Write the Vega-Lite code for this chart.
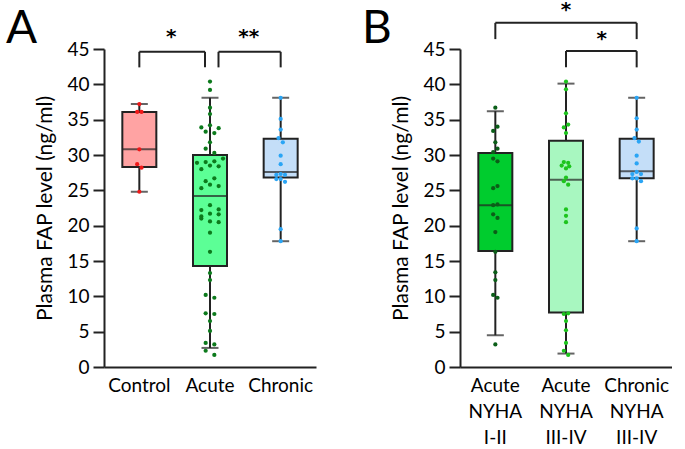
{
  "$schema": "https://vega.github.io/schema/vega-lite/v6.json",
  "padding": {"left": 5, "top": 0, "right": 0, "bottom": 0},
  "resolve": {"scale": {"fill": "independent", "color": "independent"}},
  "config": {
    "view": {"stroke": null},
    "font": "Lato",
    "axis": {
      "grid": false,
      "domainColor": "#222",
      "domainWidth": 2,
      "tickColor": "#222",
      "tickWidth": 2,
      "labelColor": "#000",
      "labelFontSize": 19,
      "titleColor": "#000",
      "titleFontSize": 21,
      "titleFontWeight": "normal"
    },
    "axisX": {"ticks": false, "labelPadding": 9, "labelAngle": 0, "title": null, "labelLineHeight": 26},
    "axisY": {"tickSize": 11, "labelPadding": 4, "titlePadding": 11},
    "title": {"fontSize": 46, "fontWeight": "normal", "color": "#000", "anchor": "start", "frame": "bounds", "offset": 0}
  },
  "datasets": {
    "boxA": [
      {"group": "Control", "lo": 24.8, "q1": 28.3, "med": 30.8, "q3": 36.1, "hi": 37.2},
      {"group": "Acute", "lo": 2.7, "q1": 14.3, "med": 24.2, "q3": 30.0, "hi": 38.1},
      {"group": "Chronic", "lo": 17.8, "q1": 26.8, "med": 27.6, "q3": 32.3, "hi": 38.1}
    ],
    "ptsA": [
      {"group": "Control", "value": 37.2, "j": 0}, {"group": "Control", "value": 36.1, "j": -1}, {"group": "Control", "value": 36.1, "j": 1},
      {"group": "Control", "value": 30.8, "j": 0}, {"group": "Control", "value": 28.7, "j": -1}, {"group": "Control", "value": 28.2, "j": 1},
      {"group": "Control", "value": 24.8, "j": 0},
      {"group": "Acute", "value": 40.4, "j": 0}, {"group": "Acute", "value": 39.2, "j": 0}, {"group": "Acute", "value": 36.7, "j": 0},
      {"group": "Acute", "value": 35.8, "j": 0}, {"group": "Acute", "value": 34.2, "j": 0}, {"group": "Acute", "value": 33.9, "j": -4},
      {"group": "Acute", "value": 33.8, "j": 4}, {"group": "Acute", "value": 33.3, "j": -2}, {"group": "Acute", "value": 33.1, "j": 2},
      {"group": "Acute", "value": 31.8, "j": 0}, {"group": "Acute", "value": 30.9, "j": -2}, {"group": "Acute", "value": 30.3, "j": 2},
      {"group": "Acute", "value": 28.9, "j": -6}, {"group": "Acute", "value": 29.0, "j": -2}, {"group": "Acute", "value": 29.1, "j": 2},
      {"group": "Acute", "value": 29.5, "j": 6}, {"group": "Acute", "value": 28.5, "j": 0}, {"group": "Acute", "value": 28.4, "j": 4},
      {"group": "Acute", "value": 28.0, "j": -4}, {"group": "Acute", "value": 26.7, "j": 2}, {"group": "Acute", "value": 26.3, "j": -2},
      {"group": "Acute", "value": 25.8, "j": 0}, {"group": "Acute", "value": 25.6, "j": 4}, {"group": "Acute", "value": 25.3, "j": -4},
      {"group": "Acute", "value": 22.9, "j": 0}, {"group": "Acute", "value": 22.2, "j": -4}, {"group": "Acute", "value": 22.3, "j": 4},
      {"group": "Acute", "value": 21.3, "j": -4}, {"group": "Acute", "value": 21.0, "j": -4}, {"group": "Acute", "value": 21.7, "j": 0},
      {"group": "Acute", "value": 21.6, "j": 4}, {"group": "Acute", "value": 20.6, "j": 0}, {"group": "Acute", "value": 20.5, "j": 4},
      {"group": "Acute", "value": 19.0, "j": 0}, {"group": "Acute", "value": 16.3, "j": 0}, {"group": "Acute", "value": 13.3, "j": 0},
      {"group": "Acute", "value": 12.3, "j": 0}, {"group": "Acute", "value": 10.2, "j": -2}, {"group": "Acute", "value": 9.8, "j": 2},
      {"group": "Acute", "value": 7.6, "j": -2}, {"group": "Acute", "value": 7.5, "j": 2}, {"group": "Acute", "value": 6.5, "j": 0},
      {"group": "Acute", "value": 5.1, "j": 0}, {"group": "Acute", "value": 3.4, "j": -2}, {"group": "Acute", "value": 3.2, "j": 2},
      {"group": "Acute", "value": 2.3, "j": -2}, {"group": "Acute", "value": 1.7, "j": 2},
      {"group": "Chronic", "value": 38.1, "j": 0}, {"group": "Chronic", "value": 35.1, "j": 0}, {"group": "Chronic", "value": 33.6, "j": 0},
      {"group": "Chronic", "value": 32.4, "j": -1}, {"group": "Chronic", "value": 31.8, "j": 1}, {"group": "Chronic", "value": 29.9, "j": 0},
      {"group": "Chronic", "value": 28.7, "j": 0}, {"group": "Chronic", "value": 27.2, "j": -2}, {"group": "Chronic", "value": 27.3, "j": 0},
      {"group": "Chronic", "value": 27.2, "j": 2}, {"group": "Chronic", "value": 26.6, "j": -2}, {"group": "Chronic", "value": 26.6, "j": 0},
      {"group": "Chronic", "value": 26.2, "j": 2}, {"group": "Chronic", "value": 19.5, "j": 0}, {"group": "Chronic", "value": 17.8, "j": 0}
    ],
    "brA": [
      {"id": 1, "from": "Control", "to": "Acute", "top": 44.6, "leg": 42.4, "sy": 45.8, "star": "*"},
      {"id": 2, "from": "Acute", "to": "Chronic", "top": 44.6, "leg": 42.4, "sy": 45.8, "star": "**"}
    ],
    "boxB": [
      {"group": "Acute NYHA I-II", "lo": 4.5, "q1": 16.4, "med": 22.9, "q3": 30.3, "hi": 36.2},
      {"group": "Acute NYHA III-IV", "lo": 1.9, "q1": 7.7, "med": 26.5, "q3": 32.0, "hi": 40.1},
      {"group": "Chronic NYHA III-IV", "lo": 17.8, "q1": 26.7, "med": 27.7, "q3": 32.3, "hi": 38.1}
    ],
    "ptsB": [
      {"group": "Acute NYHA I-II", "value": 36.7, "j": 0}, {"group": "Acute NYHA I-II", "value": 34.0, "j": 1}, {"group": "Acute NYHA I-II", "value": 33.4, "j": -1},
      {"group": "Acute NYHA I-II", "value": 31.8, "j": 0}, {"group": "Acute NYHA I-II", "value": 30.9, "j": 1}, {"group": "Acute NYHA I-II", "value": 30.4, "j": -1},
      {"group": "Acute NYHA I-II", "value": 29.5, "j": -1}, {"group": "Acute NYHA I-II", "value": 29.1, "j": 1}, {"group": "Acute NYHA I-II", "value": 25.3, "j": -1},
      {"group": "Acute NYHA I-II", "value": 25.6, "j": 1}, {"group": "Acute NYHA I-II", "value": 22.9, "j": -1}, {"group": "Acute NYHA I-II", "value": 23.0, "j": 1},
      {"group": "Acute NYHA I-II", "value": 21.6, "j": -1}, {"group": "Acute NYHA I-II", "value": 21.1, "j": 1}, {"group": "Acute NYHA I-II", "value": 19.1, "j": 0},
      {"group": "Acute NYHA I-II", "value": 16.3, "j": 0}, {"group": "Acute NYHA I-II", "value": 13.4, "j": 0}, {"group": "Acute NYHA I-II", "value": 12.3, "j": 0},
      {"group": "Acute NYHA I-II", "value": 10.2, "j": -1}, {"group": "Acute NYHA I-II", "value": 9.8, "j": 1}, {"group": "Acute NYHA I-II", "value": 3.2, "j": 0},
      {"group": "Acute NYHA III-IV", "value": 40.4, "j": 0}, {"group": "Acute NYHA III-IV", "value": 39.3, "j": 0}, {"group": "Acute NYHA III-IV", "value": 35.9, "j": 0},
      {"group": "Acute NYHA III-IV", "value": 34.3, "j": 1}, {"group": "Acute NYHA III-IV", "value": 33.9, "j": -1}, {"group": "Acute NYHA III-IV", "value": 33.1, "j": 0},
      {"group": "Acute NYHA III-IV", "value": 29.0, "j": -1}, {"group": "Acute NYHA III-IV", "value": 28.9, "j": 1}, {"group": "Acute NYHA III-IV", "value": 28.5, "j": -2},
      {"group": "Acute NYHA III-IV", "value": 28.1, "j": 0}, {"group": "Acute NYHA III-IV", "value": 28.4, "j": 1.5}, {"group": "Acute NYHA III-IV", "value": 26.8, "j": 0},
      {"group": "Acute NYHA III-IV", "value": 26.3, "j": -1}, {"group": "Acute NYHA III-IV", "value": 25.8, "j": 1}, {"group": "Acute NYHA III-IV", "value": 22.3, "j": 0},
      {"group": "Acute NYHA III-IV", "value": 21.4, "j": 0}, {"group": "Acute NYHA III-IV", "value": 20.5, "j": 0}, {"group": "Acute NYHA III-IV", "value": 7.5, "j": -1},
      {"group": "Acute NYHA III-IV", "value": 7.6, "j": 1}, {"group": "Acute NYHA III-IV", "value": 6.5, "j": 0}, {"group": "Acute NYHA III-IV", "value": 5.2, "j": 0},
      {"group": "Acute NYHA III-IV", "value": 3.4, "j": 0}, {"group": "Acute NYHA III-IV", "value": 2.3, "j": -1}, {"group": "Acute NYHA III-IV", "value": 1.7, "j": 1},
      {"group": "Chronic NYHA III-IV", "value": 38.1, "j": 0}, {"group": "Chronic NYHA III-IV", "value": 35.2, "j": 0}, {"group": "Chronic NYHA III-IV", "value": 33.6, "j": 0},
      {"group": "Chronic NYHA III-IV", "value": 32.4, "j": -1}, {"group": "Chronic NYHA III-IV", "value": 31.9, "j": 1}, {"group": "Chronic NYHA III-IV", "value": 29.9, "j": 0},
      {"group": "Chronic NYHA III-IV", "value": 28.8, "j": 0}, {"group": "Chronic NYHA III-IV", "value": 27.6, "j": 0}, {"group": "Chronic NYHA III-IV", "value": 27.3, "j": -2},
      {"group": "Chronic NYHA III-IV", "value": 27.3, "j": 2}, {"group": "Chronic NYHA III-IV", "value": 26.7, "j": -2}, {"group": "Chronic NYHA III-IV", "value": 26.7, "j": 0},
      {"group": "Chronic NYHA III-IV", "value": 26.3, "j": 2}, {"group": "Chronic NYHA III-IV", "value": 19.6, "j": 0}, {"group": "Chronic NYHA III-IV", "value": 17.8, "j": 0}
    ],
    "brB": [
      {"id": 1, "from": "Acute NYHA I-II", "to": "Chronic NYHA III-IV", "mid": "Acute NYHA III-IV", "top": 48.7, "leg": 46.4, "sy": 49.6, "star": "*"},
      {"id": 2, "from": "Acute NYHA III-IV", "to": "Chronic NYHA III-IV", "mid": "Chronic NYHA III-IV", "top": 44.7, "leg": 42.4, "sy": 45.6, "star": "*"}
    ]
  },
  "spacing": 45,
  "hconcat": [
    {
      "width": 212,
      "height": 318,
      "title": {"text": "A", "dx": -29, "dy": 30},
      "encoding": {
        "x": {"field": "group", "type": "nominal", "sort": null, "scale": {"domain": ["Control", "Acute", "Chronic"], "paddingInner": 0, "paddingOuter": 0}, "axis": {"title": null}},
        "y": {"field": "value", "type": "quantitative", "scale": {"domain": [0, 45], "nice": false}, "axis": {"title": "Plasma FAP level (ng/ml)", "values": [0, 5, 10, 15, 20, 25, 30, 35, 40, 45]}}
      },
      "layer": [
        {"data": {"name": "boxA"}, "mark": {"type": "rule", "color": "#222", "strokeWidth": 2}, "encoding": {"y": {"field": "lo", "type": "quantitative"}, "y2": {"field": "hi"}}},
        {"data": {"name": "boxA"}, "mark": {"type": "bar", "width": 34, "stroke": "#222", "strokeWidth": 2}, "encoding": {"y": {"field": "q1", "type": "quantitative"}, "y2": {"field": "q3"}, "fill": {"field": "group", "type": "nominal", "scale": {"domain": ["Control", "Acute", "Chronic"], "range": ["#FFA3A3", "#5CFF96", "#C4DEF8"]}, "legend": null}}},
        {"data": {"name": "boxA"}, "mark": {"type": "tick", "color": "#222", "size": 34, "thickness": 2}, "encoding": {"y": {"field": "med", "type": "quantitative"}}},
        {"data": {"name": "boxA"}, "mark": {"type": "tick", "color": "#222", "size": 17, "thickness": 2}, "encoding": {"y": {"field": "lo", "type": "quantitative"}}},
        {"data": {"name": "boxA"}, "mark": {"type": "tick", "color": "#222", "size": 17, "thickness": 2}, "encoding": {"y": {"field": "hi", "type": "quantitative"}}},
        {"data": {"name": "ptsA"}, "mark": {"type": "circle", "size": 18, "opacity": 1}, "encoding": {
          "xOffset": {"field": "j", "type": "quantitative", "scale": {"domain": [-16.3, 16.3], "nice": false, "zero": false}},
          "color": {"field": "group", "type": "nominal", "scale": {"domain": ["Control", "Acute", "Chronic"], "range": ["#F01818", "#0C7A1C", "#2AA5F5"]}, "legend": null}}},
        {"data": {"name": "brA"}, "transform": [{"filter": "datum.id == 1"}], "mark": {"type": "rule", "color": "#222", "strokeWidth": 2, "x2Offset": -5}, "encoding": {"x": {"field": "from"}, "x2": {"field": "to"}, "y": {"field": "top", "type": "quantitative"}}},
        {"data": {"name": "brA"}, "transform": [{"filter": "datum.id == 1"}], "mark": {"type": "rule", "color": "#222", "strokeWidth": 2}, "encoding": {"x": {"field": "from"}, "y": {"field": "leg", "type": "quantitative"}, "y2": {"field": "top"}}},
        {"data": {"name": "brA"}, "transform": [{"filter": "datum.id == 1"}], "mark": {"type": "rule", "color": "#222", "strokeWidth": 2, "xOffset": -5}, "encoding": {"x": {"field": "to"}, "y": {"field": "leg", "type": "quantitative"}, "y2": {"field": "top"}}},
        {"data": {"name": "brA"}, "transform": [{"filter": "datum.id == 1"}], "mark": {"type": "text", "font": "DejaVu Sans", "fontSize": 20, "fontWeight": "bold", "align": "center", "baseline": "alphabetic", "dx": 32, "color": "#000"}, "encoding": {"x": {"field": "from"}, "y": {"field": "sy", "type": "quantitative"}, "text": {"field": "star"}}},
        {"data": {"name": "brA"}, "transform": [{"filter": "datum.id == 2"}], "mark": {"type": "rule", "color": "#222", "strokeWidth": 2, "xOffset": 8.5}, "encoding": {"x": {"field": "from"}, "x2": {"field": "to"}, "y": {"field": "top", "type": "quantitative"}}},
        {"data": {"name": "brA"}, "transform": [{"filter": "datum.id == 2"}], "mark": {"type": "rule", "color": "#222", "strokeWidth": 2, "xOffset": 8.5}, "encoding": {"x": {"field": "from"}, "y": {"field": "leg", "type": "quantitative"}, "y2": {"field": "top"}}},
        {"data": {"name": "brA"}, "transform": [{"filter": "datum.id == 2"}], "mark": {"type": "rule", "color": "#222", "strokeWidth": 2}, "encoding": {"x": {"field": "to"}, "y": {"field": "leg", "type": "quantitative"}, "y2": {"field": "top"}}},
        {"data": {"name": "brA"}, "transform": [{"filter": "datum.id == 2"}], "mark": {"type": "text", "font": "DejaVu Sans", "fontSize": 20, "fontWeight": "bold", "align": "center", "baseline": "alphabetic", "dx": -32, "color": "#000"}, "encoding": {"x": {"field": "to"}, "y": {"field": "sy", "type": "quantitative"}, "text": {"field": "star"}}}
      ]
    },
    {
      "width": 212,
      "height": 318,
      "title": {"text": "B", "dx": -29, "dy": 57},
      "encoding": {
        "x": {"field": "group", "type": "nominal", "sort": null, "scale": {"domain": ["Acute NYHA I-II", "Acute NYHA III-IV", "Chronic NYHA III-IV"], "paddingInner": 0, "paddingOuter": 0}, "axis": {"title": null, "labelExpr": "split(datum.label, ' ')"}},
        "y": {"field": "value", "type": "quantitative", "scale": {"domain": [0, 45], "nice": false}, "axis": {"title": "Plasma FAP level (ng/ml)", "values": [0, 5, 10, 15, 20, 25, 30, 35, 40, 45]}}
      },
      "layer": [
        {"data": {"name": "boxB"}, "mark": {"type": "rule", "color": "#222", "strokeWidth": 2}, "encoding": {"y": {"field": "lo", "type": "quantitative"}, "y2": {"field": "hi"}}},
        {"data": {"name": "boxB"}, "mark": {"type": "bar", "width": 34, "stroke": "#222", "strokeWidth": 2}, "encoding": {"y": {"field": "q1", "type": "quantitative"}, "y2": {"field": "q3"}, "fill": {"field": "group", "type": "nominal", "scale": {"domain": ["Acute NYHA I-II", "Acute NYHA III-IV", "Chronic NYHA III-IV"], "range": ["#00CC2E", "#A8F7C0", "#C4DEF8"]}, "legend": null}}},
        {"data": {"name": "boxB"}, "mark": {"type": "tick", "color": "#222", "size": 34, "thickness": 2}, "encoding": {"y": {"field": "med", "type": "quantitative"}}},
        {"data": {"name": "boxB"}, "mark": {"type": "tick", "color": "#222", "size": 17, "thickness": 2}, "encoding": {"y": {"field": "lo", "type": "quantitative"}}},
        {"data": {"name": "boxB"}, "mark": {"type": "tick", "color": "#222", "size": 17, "thickness": 2}, "encoding": {"y": {"field": "hi", "type": "quantitative"}}},
        {"data": {"name": "ptsB"}, "mark": {"type": "circle", "size": 18, "opacity": 1}, "encoding": {
          "xOffset": {"field": "j", "type": "quantitative", "scale": {"domain": [-16.3, 16.3], "nice": false, "zero": false}},
          "color": {"field": "group", "type": "nominal", "scale": {"domain": ["Acute NYHA I-II", "Acute NYHA III-IV", "Chronic NYHA III-IV"], "range": ["#0B5E18", "#1DC41D", "#2AA5F5"]}, "legend": null}}},
        {"data": {"name": "brB"}, "mark": {"type": "rule", "color": "#222", "strokeWidth": 2}, "encoding": {"x": {"field": "from"}, "x2": {"field": "to"}, "y": {"field": "top", "type": "quantitative"}}},
        {"data": {"name": "brB"}, "mark": {"type": "rule", "color": "#222", "strokeWidth": 2}, "encoding": {"x": {"field": "from"}, "y": {"field": "leg", "type": "quantitative"}, "y2": {"field": "top"}}},
        {"data": {"name": "brB"}, "mark": {"type": "rule", "color": "#222", "strokeWidth": 2}, "encoding": {"x": {"field": "to"}, "y": {"field": "leg", "type": "quantitative"}, "y2": {"field": "top"}}},
        {"data": {"name": "brB"}, "transform": [{"filter": "datum.id == 1"}], "mark": {"type": "text", "font": "DejaVu Sans", "fontSize": 20, "fontWeight": "bold", "align": "center", "baseline": "alphabetic", "color": "#000"}, "encoding": {"x": {"field": "mid"}, "y": {"field": "sy", "type": "quantitative"}, "text": {"field": "star"}}},
        {"data": {"name": "brB"}, "transform": [{"filter": "datum.id == 2"}], "mark": {"type": "text", "font": "DejaVu Sans", "fontSize": 20, "fontWeight": "bold", "align": "center", "baseline": "alphabetic", "dx": -35, "color": "#000"}, "encoding": {"x": {"field": "mid"}, "y": {"field": "sy", "type": "quantitative"}, "text": {"field": "star"}}}
      ]
    }
  ]
}
